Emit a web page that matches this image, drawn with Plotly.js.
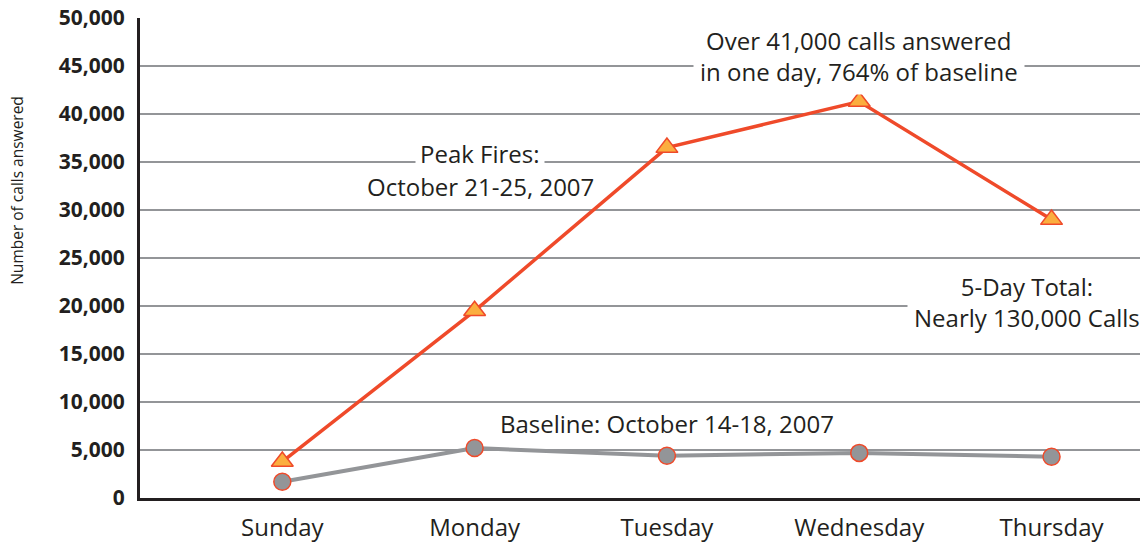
<!DOCTYPE html>
<html>
<head>
<meta charset="utf-8">
<script src="https://cdn.plot.ly/plotly-3.0.1.min.js"></script>
<style>html,body{margin:0;padding:0;background:#fff;}#chart{width:1140px;height:542px;}</style>
</head>
<body>
<div id="chart"></div>
<script>
const days = ["Sunday", "Monday", "Tuesday", "Wednesday", "Thursday"];
const peakFires = [3800, 19500, 36500, 41300, 29000];
const baseline = [1700, 5200, 4400, 4700, 4300];
const yTicks = [0, 5000, 10000, 15000, 20000, 25000, 30000, 35000, 40000, 45000, 50000];
const yTickText = ["0", "5,000", "10,000", "15,000", "20,000", "25,000", "30,000", "35,000", "40,000", "45,000", "50,000"];

const FONT = "Open Sans, Lato, sans-serif";
const TXT = "#231f20";

const traces = [
  {
    x: days, y: baseline, type: "scatter", mode: "lines+markers",
    line: {color: "#939598", width: 4},
    marker: {symbol: "circle", size: 17, color: "#939598", line: {color: "#ef4a2a", width: 1.5}},
    cliponaxis: false, hoverinfo: "skip"
  },
  {
    x: days, y: peakFires, type: "scatter", mode: "lines+markers",
    line: {color: "#ef4a2a", width: 3.5},
    marker: {symbol: "triangle-up", size: 19, color: "#fbae3f", line: {color: "#ef4a2a", width: 1.5}},
    cliponaxis: false, hoverinfo: "skip"
  }
];

const layout = {
  width: 1140, height: 542,
  margin: {l: 140, r: 0, t: 18, b: 44},
  paper_bgcolor: "#fff", plot_bgcolor: "#fff",
  showlegend: false,
  font: {family: FONT, color: TXT},
  xaxis: {
    type: "category", range: [-0.74, 4.46],
    showgrid: false, zeroline: false,
    showline: true, linecolor: TXT, linewidth: 3,
    ticks: "", ticklabelstandoff: 6,
    tickfont: {family: FONT, size: 24, color: TXT}
  },
  yaxis: {
    range: [0, 50000],
    tickvals: yTicks, ticktext: yTickText,
    showgrid: true, gridcolor: "#939598", gridwidth: 2,
    zeroline: false,
    showline: true, linecolor: TXT, linewidth: 3,
    ticks: "", ticklabelstandoff: 8,
    tickfont: {family: FONT, size: 21, color: TXT, weight: "bold"}
  },
  annotations: [
    {xref: "paper", yref: "paper", x: -0.123, y: 0.64, xanchor: "center", yanchor: "middle",
     text: "Number of calls answered", textangle: -90, showarrow: false,
     font: {family: FONT, size: 15.5, color: TXT}},
    {xref: "x", yref: "y", x: 1.03, y: 35900, text: "Peak Fires:", showarrow: false,
     bgcolor: "#fff", borderpad: 4, xanchor: "center", yanchor: "middle",
     font: {family: FONT, size: 24, color: TXT}},
    {xref: "x", yref: "y", x: 1.03, y: 32500, text: "October 21-25, 2007", showarrow: false,
     xanchor: "center", yanchor: "middle",
     font: {family: FONT, size: 24, color: TXT}},
    {xref: "x", yref: "y", x: 3.0, y: 46000, text: "Over 41,000 calls answered<br>in one day, 764% of baseline",
     showarrow: false, bgcolor: "#fff", borderpad: 6, xanchor: "center", yanchor: "middle",
     font: {family: FONT, size: 24, color: TXT}},
    {xref: "x", yref: "y", x: 3.87, y: 20400, text: "5-Day Total:<br>Nearly 130,000 Calls",
     showarrow: false, bgcolor: "#fff", borderpad: 6, xanchor: "center", yanchor: "middle", align: "center",
     font: {family: FONT, size: 24, color: TXT}},
    {xref: "x", yref: "y", x: 2.0, y: 7800, text: "Baseline: October 14-18, 2007",
     showarrow: false, xanchor: "center", yanchor: "middle",
     font: {family: FONT, size: 24, color: TXT}}
  ]
};

Plotly.newPlot("chart", traces, layout, {displayModeBar: false, staticPlot: true});
</script>
</body>
</html>
